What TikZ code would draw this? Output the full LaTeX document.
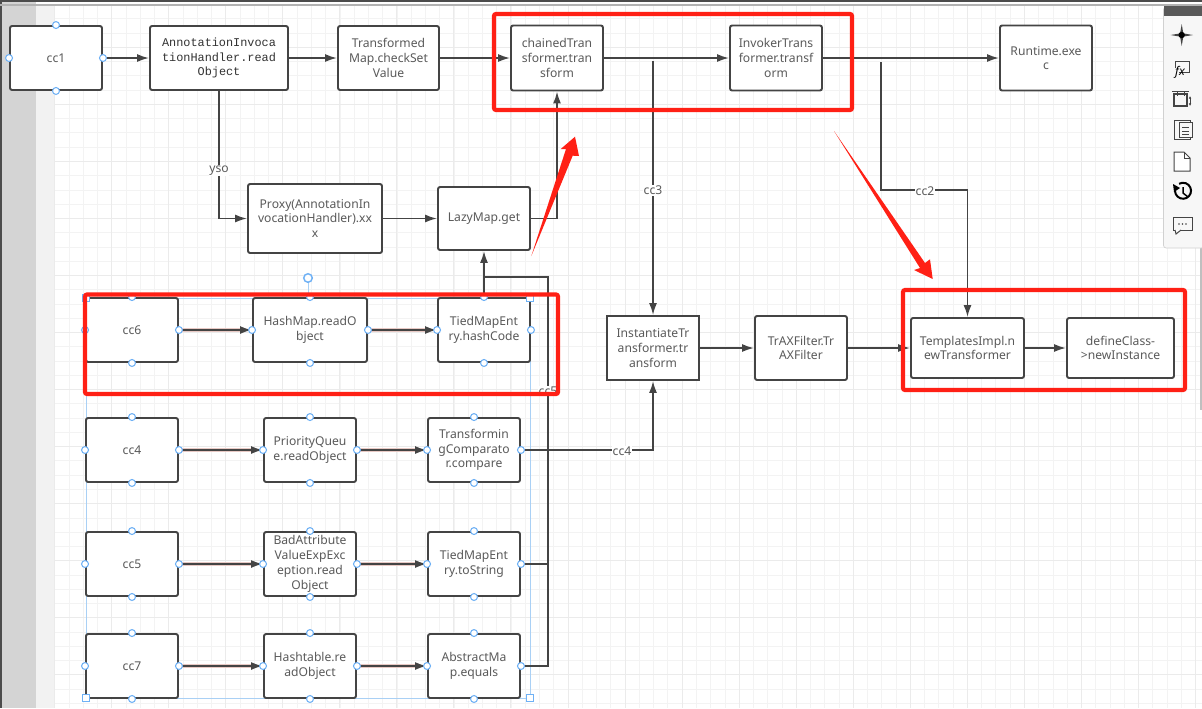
\documentclass[tikz,border=0pt]{standalone}
\usepackage{fontspec}
\setmainfont{Noto Sans}
\newfontfamily\monof{Liberation Mono}
\usetikzlibrary{arrows.meta}
\definecolor{ink}{HTML}{444444}
\definecolor{txt}{HTML}{5A5A5A}
\definecolor{gridc}{HTML}{F3F3F3}
\definecolor{gridm}{HTML}{EBEBEB}
\definecolor{hblue}{HTML}{6FB1F5}
\definecolor{sel}{HTML}{A9D0F5}
\definecolor{redm}{HTML}{FF2015}
\definecolor{pinkl}{HTML}{E8C9C4}
\tikzset{
  x=0.75pt,y=-0.75pt,
  box/.style 2 args={draw=ink,line width=1.45pt,rounded corners=1.6pt,fill=white,text=txt,
    minimum width=#1*0.75pt,minimum height=#2*0.75pt,inner sep=0pt,align=center,
    font=\fontsize{9.1}{11.1}\selectfont},
  conn/.style={draw=ink,line width=1.3pt,-{Latex[length=9pt,width=6pt]}},
  plain/.style={draw=ink,line width=1.3pt},
  pk/.style={draw=pinkl,line width=2.6pt},
  lab/.style={fill=white,text=txt,inner sep=0.6pt,font=\fontsize{9.1}{11}\selectfont},
  handle/.style={draw=hblue,fill=white,line width=0.8pt},
  redbox/.style={draw=redm,line width=3.1pt,rounded corners=1.5pt},
  icon/.style={draw=ink,line width=0.75pt,fill=none},
}
\begin{document}
\begin{tikzpicture}
\useasboundingbox (0,0) rectangle (1202,708);
\fill[white] (0,0) rectangle (1202,708);
% grid
\foreach \i in {0,...,80}{\draw[gridc,line width=0.6pt] ({54.7+14.26*\i},5) -- ({54.7+14.26*\i},708);}
\foreach \i in {0,...,48}{\draw[gridc,line width=0.6pt] (54,{18.8+14.26*\i}) -- (1202,{18.8+14.26*\i});}
\foreach \i in {0,...,20}{\draw[gridm,line width=0.7pt] ({54.7+57.03*\i},5) -- ({54.7+57.03*\i},708);}
\foreach \i in {0,...,12}{\draw[gridm,line width=0.7pt] (54,{47.3+57.03*\i}) -- (1202,{47.3+57.03*\i});}
% chrome
\fill[black!17] (0,0) rectangle (36,708);
\fill[black!5] (36,5) rectangle (54,708);
\fill[black!70] (0,0) rectangle (1.5,708);
\fill[black!70] (0,0) rectangle (1202,1.5);
\fill[black!30] (0,4) rectangle (1202,5.5);
\fill[black!25] (1199.5,248) rectangle (1202,410);
% right panel
\fill[black!3,draw=black!18,line width=0.5pt,rounded corners=2pt] (1163.5,7) rectangle (1204,248);
\fill[black!65] (1163.5,6) rectangle (1202,16);
\fill[ink] (1181.7,24) -- (1183.3,33.4) -- (1193,35) -- (1183.3,36.6) -- (1181.7,46) -- (1180.1,36.6) -- (1170.5,35) -- (1180.1,33.4) -- cycle;
\fill[black] (1181.7,35) circle (2.4pt);
\draw[icon] (1179,72) -- (1189,72) -- (1189,61) -- (1175,61) -- (1175,68);
\node[text=black,inner sep=0pt,font=\fontsize{9}{9}\selectfont\itshape] (fxicon) at (1180,72) {fx};
\draw[icon,line width=1pt] (1174,94) rectangle (1187,106);
\draw[icon] (1177,91) -- (1177,96) (1184,91) -- (1184,96) (1172,91) -- (1189,91);
\draw[icon,{Latex[length=2pt,width=2pt]}-{Latex[length=2pt,width=2pt]}] (1190,96) -- (1190,106);
\draw[icon] (1174,120) rectangle (1190,139);
\draw[icon,fill=black!3] (1179,122) rectangle (1192,137);
\draw[icon] (1182,127) -- (1189,127) (1182,131) -- (1189,131) (1182,134) -- (1189,134);
\draw[icon,fill=white] (1174,152) -- (1184,152) -- (1190,158) -- (1190,171) -- (1174,171) -- cycle;
\draw[icon] (1184,152) -- (1184,158) -- (1190,158);
\draw[black,line width=1.5pt] (1175.5,188) arc (200:-120:8);
\fill[black] (1173,184) -- (1180,188) -- (1174,192) -- cycle;
\draw[black,line width=1.1pt] (1183,187) -- (1183,193) -- (1188,197);
\draw[icon] (1173,217) rectangle (1192,230);
\fill[white] (1175,229.5) rectangle (1181,231);
\draw[icon] (1175,230) -- (1176,234) -- (1181,230);
\fill[ink] (1179,224) circle (0.6pt) (1182.5,224) circle (0.6pt) (1186,224) circle (0.6pt);
% boxes, row 1
\node[box={92}{64}] (cc1) at (56,58) {cc1};
\node[box={138}{64},text=black!80,font=\fontsize{8.9}{11.1}\monof] (annot) at (219,58) {AnnotationInvoca\\tionHandler.read\\Object};
\node[box={101}{64}] (tmap) at (388.5,58) {Transformed\\Map.checkSet\\Value};
\node[box={92}{65}] (chain) at (557,58) {chainedTran\\sformer.tran\\sform};
\node[box={92}{65}] (invoker) at (776,58) {InvokerTrans\\former.transf\\orm};
\node[box={92}{65}] (runtime) at (1046,58) {Runtime.exe\\c};
% row 2
\node[box={134}{69}] (proxy) at (315,218.5) {Proxy(AnnotationIn\\vocationHandler).xx\\x};
\node[box={92}{63}] (lazy) at (484,218.5) {LazyMap.get};
% right row
\node[box={92}{64},rounded corners=0pt] (inst) at (653,348) {InstantiateTr\\ansformer.tr\\ansform};
\node[box={92}{64}] (trax) at (801,348) {TrAXFilter.Tr\\AXFilter};
\node[box={113}{60}] (tmpl) at (967.5,348) {TemplatesImpl.n\\ewTransformer};
\node[box={107}{60}] (defc) at (1120.5,348) {defineClass-\\>newInstance};
% selection
\draw[sel,line width=0.6pt] (86,298) rectangle (530,698);
\draw[sel,line width=0.6pt] (308,278) -- (308,298);
% left rows
\node[box={92}{64}] (cc6) at (132,330) {cc6};
\node[box={114}{64}] (hash) at (310,330) {HashMap.readO\\bject};
\node[box={92}{64}] (tied) at (484,330) {TiedMapEnt\\ry.hashCode};
\node[box={92}{64}] (cc4) at (132,450) {cc4};
\node[box={92}{64}] (prio) at (310,450) {PriorityQueu\\e.readObject};
\node[box={92}{64}] (tcomp) at (474,450) {Transformin\\gComparato\\r.compare};
\node[box={92}{64}] (cc5) at (132,564) {cc5};
\node[box={92}{64}] (bad) at (310,564) {BadAttribute\\ValueExpExc\\eption.read\\Object};
\node[box={92}{64}] (tostr) at (474,564) {TiedMapEnt\\ry.toString};
\node[box={92}{64}] (cc7) at (132,666) {cc7};
\node[box={92}{64}] (htab) at (310,666) {Hashtable.re\\adObject};
\node[box={92}{64}] (amap) at (474,666) {AbstractMa\\p.equals};
% coordinates
\coordinate (j) at (548,277);
\coordinate (c3) at (653,61);
\coordinate (c2) at (881,62);
\coordinate (c2a) at (881,190);
% connectors
\draw[conn] (cc1.east) -- (annot.west);
\draw[conn] (annot.east) -- (tmap.west);
\draw[conn] (tmap.east) -- (chain.west);
\draw[conn] (chain.east) -- (invoker.west);
\draw[conn] (invoker.east) -- (runtime.west);
\draw[conn] (annot.south) |- (proxy.west) node[pos=0.3125,lab] (lyso) {yso};
\draw[conn] (proxy.east) -- (lazy.west);
\draw[conn] (lazy.east) -| (chain.south);
\draw[conn] (c3) -- (inst.north) node[pos=0.51,lab] (lc3) {cc3};
\draw[conn] (c2) -- (c2a) -| (tmpl.north);
\node[lab] (lc2) at (925,191.5) {cc2};
\draw[conn] (inst.east) -- (trax.west);
\draw[conn] (trax.east) -- (tmpl.west);
\draw[conn] (tmpl.east) -- (defc.west);
\draw[plain] (tied.north) -- (tied.north |- j);
\draw[conn] (amap.east) -| (j) -- (lazy.south |- j) -- (lazy.south);
\draw[plain] (tostr.east) -- (tostr.east -| j);
\draw[conn] (tcomp.east) -| (inst.south);
\node[lab] (lc4) at (622,451) {cc4};
\node[lab] (lc5) at (548,391) {cc5};
% selected row arrows
\foreach \a/\b in {cc6/hash,hash/tied,cc4/prio,prio/tcomp,cc5/bad,bad/tostr,cc7/htab,htab/amap}{
  \draw[pk] (\a.east) -- ([xshift=-8pt]\b.west);
  \draw[conn,line width=1.5pt] (\a.east) -- (\b.west);
}
% handles
\foreach \n in {cc1,cc6,hash,tied,cc4,prio,tcomp,cc5,bad,tostr,cc7,htab,amap}{
  \foreach \a in {north,east,south,west}{\draw[handle] (\n.\a) circle (2.6pt);}
}
\draw[handle,line width=1.1pt] (308,278) circle (3.2pt);
\foreach \px/\py in {86/298,530/298,86/698,530/698}{\draw[handle] (\px-3.5,\py-3.5) rectangle (\px+3.5,\py+3.5);}
% red annotations
\draw[redbox] (494,14) rectangle (852,110);
\draw[redbox] (85,294.5) rectangle (558,394);
\draw[redbox] (903,290) rectangle (1185,390);
\fill[redm] (531.3,256) -- (566,149) -- (560.7,149) -- (575,136.7) -- (579,156) -- (572.7,155.7) -- cycle;
\fill[redm] (834,131) -- (920,268) -- (914,270) -- (932.7,279) -- (930,259.3) -- (925,263) -- cycle;
\end{tikzpicture}
\end{document}
